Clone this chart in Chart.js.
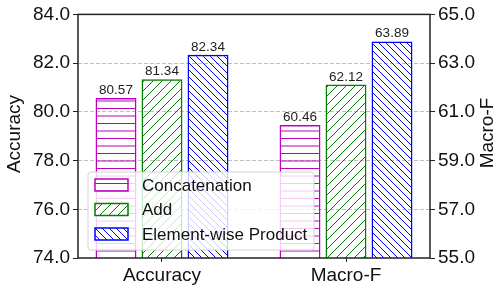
<!DOCTYPE html>
<html>
<head>
<meta charset="utf-8">
<script src="https://cdn.jsdelivr.net/npm/chart.js@4/dist/chart.umd.min.js"></script>
<style>
  body { margin: 0; background: #fff; }
  canvas { display: block; }
</style>
</head>
<body>
<canvas id="chart" width="497" height="291"></canvas>
<script>
// data
const categories = ['Accuracy', 'Macro-F'];
const seriesNames = ['Concatenation', 'Add', 'Element-wise Product'];
const concatValues = [80.57, 60.46];
const addValues = [81.34, 62.12];
const productValues = [82.34, 63.89];
const leftTicks = [74, 76, 78, 80, 82, 84];
const rightTicks = [55, 57, 59, 61, 63, 65];

const FONT = '"Liberation Sans", Arial, sans-serif';
const colors = ['#bf00bf', '#008000', '#0000ff'];

function hatch(kind, color) {
    let c = document.createElement('canvas');
    let g;
    if (kind === '-') {
        c.width = 8; c.height = 15;
        g = c.getContext('2d');
        g.strokeStyle = color; g.lineWidth = 1;
        g.beginPath();
        g.moveTo(0, 3.5); g.lineTo(8, 3.5);
        g.moveTo(0, 11); g.lineTo(8, 11);
        g.stroke();
    } else {
        let s = kind === '/' ? 9 : 7;
        c.width = s; c.height = s;
        g = c.getContext('2d');
        g.strokeStyle = color; g.lineWidth = 1;
        g.beginPath();
        if (kind === '/') {
            g.moveTo(0, s); g.lineTo(s, 0);
            g.moveTo(-1, 1); g.lineTo(1, -1);
            g.moveTo(s - 1, s + 1); g.lineTo(s + 1, s - 1);
        } else {
            g.moveTo(0, 0); g.lineTo(s, s);
            g.moveTo(-1, s - 1); g.lineTo(1, s + 1);
            g.moveTo(s - 1, -1); g.lineTo(s + 1, 1);
        }
        g.stroke();
    }
    return document.getElementById('chart').getContext('2d').createPattern(c, 'repeat');
}

const patterns = [hatch('-', colors[0]), hatch('/', colors[1]), hatch('\\', colors[2])];
const allValues = [concatValues, addValues, productValues];

let datasets = [];
allValues.forEach((vals, i) => {
    ['y', 'y2'].forEach((axis, k) => {
        datasets.push({
            label: seriesNames[i],
            data: categories.map((c, j) => ({ x: j, y: j === k ? vals[j] : null })),
            yAxisID: axis,
            backgroundColor: patterns[i],
            borderColor: colors[i],
            borderWidth: 1.5,
            borderSkipped: false,
            skipNull: true,
            categoryPercentage: 0.75,
            barPercentage: 0.89
        });
    });
});

const extras = {
    id: 'extras',
    afterDatasetsDraw(chart) {
        const ctx = chart.ctx;
        const a = chart.chartArea;
        ctx.save();
        // value labels
        ctx.font = '13.5px ' + FONT;
        ctx.fillStyle = '#222';
        ctx.textAlign = 'center';
        ctx.textBaseline = 'bottom';
        chart.data.datasets.forEach((ds, di) => {
            const meta = chart.getDatasetMeta(di);
            meta.data.forEach((bar, j) => {
                const v = ds.data[j].y;
                if (v === null) return;
                ctx.fillText(v.toFixed(2), bar.x, bar.y - 1);
            });
        });
        // frame
        ctx.strokeStyle = '#222';
        ctx.lineWidth = 1.5;
        ctx.strokeRect(a.left, a.top, a.right - a.left, a.bottom - a.top);
        // axis titles
        ctx.font = '19px ' + FONT;
        ctx.fillStyle = '#111';
        ctx.textBaseline = 'middle';
        ctx.translate(15, 134);
        ctx.rotate(-Math.PI / 2);
        ctx.fillText('Accuracy', 0, 0);
        ctx.setTransform(1, 0, 0, 1, 0, 0);
        ctx.translate(488, 133);
        ctx.rotate(-Math.PI / 2);
        ctx.fillText('Macro-F', 0, 0);
        ctx.restore();
    },
    afterDraw(chart) {
        const ctx = chart.ctx;
        ctx.save();
        // legend inside the plot
        ctx.beginPath();
        ctx.roundRect(88, 172, 226, 78, 3);
        ctx.fillStyle = 'rgba(255,255,255,0.8)';
        ctx.fill();
        ctx.strokeStyle = '#d4d4d4';
        ctx.lineWidth = 1;
        ctx.stroke();
        ctx.font = '17px ' + FONT;
        ctx.textBaseline = 'middle';
        ctx.textAlign = 'left';
        seriesNames.forEach((name, i) => {
            const top = 179 + i * 24.5;
            ctx.fillStyle = '#fff';
            ctx.fillRect(95, top, 33, 12);
            ctx.fillStyle = patterns[i];
            ctx.fillRect(95, top, 33, 12);
            ctx.strokeStyle = colors[i];
            ctx.lineWidth = 1.5;
            ctx.strokeRect(95, top, 33, 12);
            ctx.fillStyle = '#111';
            ctx.fillText(name, 142, top + 7);
        });
        ctx.restore();
    }
};

const tickFont = { family: FONT, size: 19 };

new Chart(document.getElementById('chart'), {
    type: 'bar',
    data: { datasets: datasets },
    options: {
        responsive: false,
        animation: false,
        devicePixelRatio: 1,
        layout: { padding: { top: 12, left: 0, right: 0, bottom: 0 } },
        plugins: { legend: { display: false }, tooltip: { enabled: false } },
        scales: {
            x: {
                type: 'linear',
                offset: false,
                min: -0.4565,
                max: 1.4565,
                afterBuildTicks: s => { s.ticks = categories.map((c, i) => ({ value: i })); },
                afterFit: s => { s.height = 33; },
                ticks: {
                    callback: v => categories[v],
                    font: tickFont,
                    color: '#111',
                    maxRotation: 0,
                    padding: 2
                },
                grid: { offset: false, drawOnChartArea: false, tickLength: 4, tickColor: '#222' },
                border: { display: false }
            },
            y: {
                position: 'left',
                min: 74,
                max: 84,
                afterBuildTicks: s => { s.ticks = leftTicks.map(v => ({ value: v })); },
                afterFit: s => { s.width = 78; },
                ticks: { callback: v => v.toFixed(1), font: tickFont, color: '#111', padding: 3 },
                grid: {
                    color: c => (c.tick.value === 74 || c.tick.value === 84) ? 'rgba(0,0,0,0)' : '#b0b0b0',
                    lineWidth: 0.8,
                    tickLength: 5,
                    tickColor: '#222',
                    tickWidth: 1
                },
                border: { display: false, dash: [4, 2] }
            },
            y2: {
                position: 'right',
                min: 55,
                max: 65,
                afterBuildTicks: s => { s.ticks = rightTicks.map(v => ({ value: v })); },
                afterFit: s => { s.width = 67; },
                ticks: { callback: v => v.toFixed(1), font: tickFont, color: '#111', padding: 3 },
                grid: { drawOnChartArea: false, tickLength: 5, tickColor: '#222', tickWidth: 1 },
                border: { display: false }
            }
        }
    },
    plugins: [extras]
});
</script>
</body>
</html>
